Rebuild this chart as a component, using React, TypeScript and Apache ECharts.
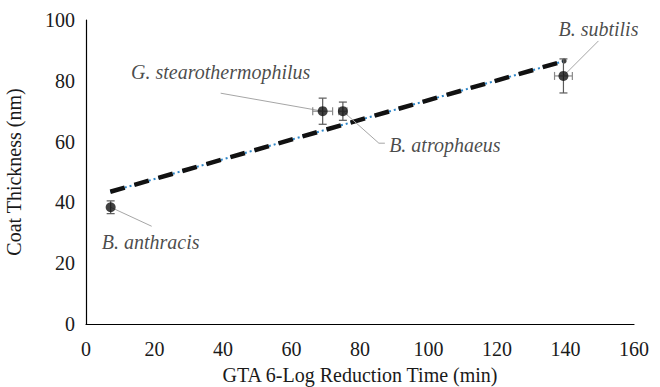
import React, { useEffect, useRef } from "react";
import * as echarts from "echarts";

// ---- data ----
const species = ["B. anthracis", "G. stearothermophilus", "B. atrophaeus", "B. subtilis"];
const reductionTime = [7.2, 69.1, 75.0, 139.4]; // min
const coatThickness = [38.4, 70.0, 70.0, 81.6]; // nm
const timeError = [0.0, 2.9, 1.2, 2.6];
const thicknessError = [2.1, 4.3, 3.0, 5.6];
const trendX = [7.1, 139.6];
const trendY = [43.5, 86.5];
const xTicks = { min: 0, max: 160, interval: 20 };
const yTicks = { min: 0, max: 100, interval: 20 };

// label placement (pixel offsets from the point): text centre + leader polyline
const labelPlacement = [
  { offset: [40, 35], leader: [[0, 0], [41, 19]] },
  { offset: [-102, -39], leader: [[-102, -18], [0, 0]] },
  { offset: [102, 34], leader: [[0, 0], [36, 32], [42, 32]] },
  { offset: [35, -47], leader: [[35, -35], [0, 0]] },
];

const SERIF = "Liberation Serif";
const FS = 20;

export default function App() {
  const ref = useRef<HTMLDivElement>(null);
  useEffect(() => {
    if (!ref.current) return;
    const chart = echarts.init(ref.current, undefined, { renderer: "svg" });
    const points = reductionTime.map((x, i) => [x, coatThickness[i], timeError[i], thicknessError[i], i]);
    const errColor = "#5a5a5a";
    chart.setOption({
      animation: false,
      backgroundColor: "#fff",
      grid: { left: 86, right: 26, top: 20, bottom: 63, containLabel: false, outerBoundsMode: "none" },
      xAxis: {
        type: "value",
        min: xTicks.min,
        max: xTicks.max,
        interval: xTicks.interval,
        name: "GTA 6-Log Reduction Time (min)",
        nameLocation: "middle",
        nameGap: 41,
        nameTextStyle: { fontFamily: SERIF, fontSize: FS, color: "#1a1a1a" },
        axisLine: { show: true, lineStyle: { color: "#000", width: 1.2 } },
        axisTick: { show: false },
        splitLine: { show: false },
        axisLabel: { fontFamily: SERIF, fontSize: FS, color: "#1a1a1a", margin: 15 },
      },
      yAxis: {
        type: "value",
        min: yTicks.min,
        max: yTicks.max,
        interval: yTicks.interval,
        name: "Coat Thickness (nm)",
        nameLocation: "middle",
        nameGap: 62,
        nameTextStyle: { fontFamily: SERIF, fontSize: FS, color: "#1a1a1a" },
        axisLine: { show: true, lineStyle: { color: "#000", width: 1.2 } },
        axisTick: { show: false },
        splitLine: { show: false },
        axisLabel: { fontFamily: SERIF, fontSize: FS, color: "#1a1a1a", margin: 11 },
      },
      series: [
        {
          type: "line",
          data: trendX.map((x, i) => [x, trendY[i]]),
          symbol: "none",
          lineStyle: { color: "#2e86c8", width: 2, type: [2, 3] },
          z: 2,
        },
        {
          type: "line",
          data: trendX.map((x, i) => [x, trendY[i]]),
          symbol: "none",
          lineStyle: { color: "#111", width: 4.5, type: [15, 10] },
          z: 3,
        },
        {
          type: "scatter",
          data: [[trendX[1], trendY[1]]],
          symbol: "circle",
          symbolSize: 5,
          itemStyle: { color: "#111" },
          z: 4,
        },
        {
          type: "custom",
          data: points,
          z: 5,
          renderItem: (params: any, api: any) => {
            const x = api.value(0), y = api.value(1), xe = api.value(2), ye = api.value(3);
            const i = api.value(4);
            const c = api.coord([x, y]);
            const top = api.coord([x, y + ye]);
            const bot = api.coord([x, y - ye]);
            const l = api.coord([x - xe, y]);
            const r = api.coord([x + xe, y]);
            const cap = 4;
            const st = { stroke: errColor, lineWidth: 1.2 };
            const st2 = { stroke: "#8a8a8a", lineWidth: 1.2 };
            const p = labelPlacement[i];
            const children: any[] = [
              {
                type: "polyline",
                shape: { points: p.leader.map((o) => [c[0] + o[0], c[1] + o[1]]) },
                style: { stroke: "#a6a6a6", lineWidth: 1, fill: null },
              },
              { type: "line", shape: { x1: c[0], y1: top[1], x2: c[0], y2: bot[1] }, style: st },
              { type: "line", shape: { x1: c[0] - cap, y1: top[1], x2: c[0] + cap, y2: top[1] }, style: st },
              { type: "line", shape: { x1: c[0] - cap, y1: bot[1], x2: c[0] + cap, y2: bot[1] }, style: st },
            ];
            if (xe > 0) {
              children.push(
                { type: "line", shape: { x1: l[0], y1: c[1], x2: r[0], y2: c[1] }, style: st2 },
                { type: "line", shape: { x1: l[0], y1: c[1] - cap, x2: l[0], y2: c[1] + cap }, style: st2 },
                { type: "line", shape: { x1: r[0], y1: c[1] - cap, x2: r[0], y2: c[1] + cap }, style: st2 }
              );
            }
            return { type: "group", children };
          },
        },
        {
          type: "scatter",
          data: points.map((p, i) => ({ value: [p[0], p[1]], name: species[i] })),
          symbol: "circle",
          symbolSize: 10,
          itemStyle: { color: "#111" },
          label: {
            show: true,
            position: "inside",
            formatter: "{b}",
            fontFamily: SERIF,
            fontStyle: "italic",
            fontSize: FS,
            color: "#1a1a1a",
          },
          labelLayout: (params: any) => ({
            dx: labelPlacement[params.dataIndex].offset[0],
            dy: labelPlacement[params.dataIndex].offset[1],
            hideOverlap: false,
          }),
          emphasis: { disabled: true },
          z: 6,
        },
      ],
    });
    return () => chart.dispose();
  }, []);
  return <div ref={ref} style={{ width: 660, height: 387, position: "absolute", left: 0, top: 0 }} />;
}
